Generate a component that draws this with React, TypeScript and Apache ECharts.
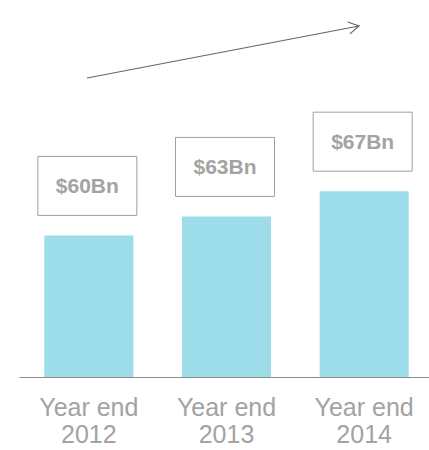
import React, { useEffect, useRef } from "react";
import * as echarts from "echarts";

const categories = ["Year end\n2012", "Year end\n2013", "Year end\n2014"];
const values = [60, 63, 67];
const valueLabels = ["$60Bn", "$63Bn", "$67Bn"];

export default function App() {
  const ref = useRef<HTMLDivElement>(null);
  useEffect(() => {
    if (!ref.current) return;
    const chart = echarts.init(ref.current, null, { renderer: "svg" });
    const ex = 359, ey = 26, sx = 87, sy = 78;
    const len = Math.hypot(ex - sx, ey - sy);
    const ux = (sx - ex) / len, uy = (sy - ey) / len;
    const rot = (a: number) => [
      ex + 12 * (ux * Math.cos(a) - uy * Math.sin(a)),
      ey + 12 * (ux * Math.sin(a) + uy * Math.cos(a)),
    ];
    chart.setOption({
      animation: false,
      textStyle: { fontFamily: "Liberation Sans, Arial, sans-serif" },
      grid: { left: 20, right: 0, top: 109, bottom: 73, containLabel: false },
      xAxis: {
        type: "category",
        data: categories,
        axisLine: { show: true, lineStyle: { color: "#8c8c8c", width: 1 } },
        axisTick: { show: false },
        axisLabel: {
          color: "#a3a3a3",
          fontSize: 25,
          lineHeight: 27,
          margin: 16,
          fontFamily: "Liberation Sans, Arial, sans-serif",
        },
      },
      yAxis: {
        type: "value",
        min: 37.6,
        max: 80,
        show: false,
        splitLine: { show: false },
      },
      series: [
        {
          type: "bar",
          data: values,
          barWidth: 89,
          itemStyle: { color: "#9ddce9" },
          label: {
            show: true,
            position: "top",
            distance: 20,
            offset: [-1.5, 0],
            formatter: (p: any) => valueLabels[p.dataIndex],
            color: "#a3a3a3",
            fontSize: 21,
            fontWeight: "bold",
            fontFamily: "Liberation Sans, Arial, sans-serif",
            borderColor: "#a0a0a0",
            borderWidth: 1,
            padding: 0,
            width: 99,
            height: 59,
            lineHeight: 59,
            align: "center",
          },
        },
      ],
      graphic: [
        {
          type: "line",
          shape: { x1: sx, y1: sy, x2: ex, y2: ey },
          style: { stroke: "#666", lineWidth: 1.2 },
        },
        {
          type: "polyline",
          shape: { points: [rot(Math.PI / 6), [ex, ey], rot(-Math.PI / 6)] },
          style: { stroke: "#666", lineWidth: 1.2, fill: null },
        },
      ],
    });
    return () => chart.dispose();
  }, []);
  return (
    <div
      ref={ref}
      style={{ position: "fixed", left: 0, top: 0, width: 433, height: 450, background: "#fff" }}
    />
  );
}
